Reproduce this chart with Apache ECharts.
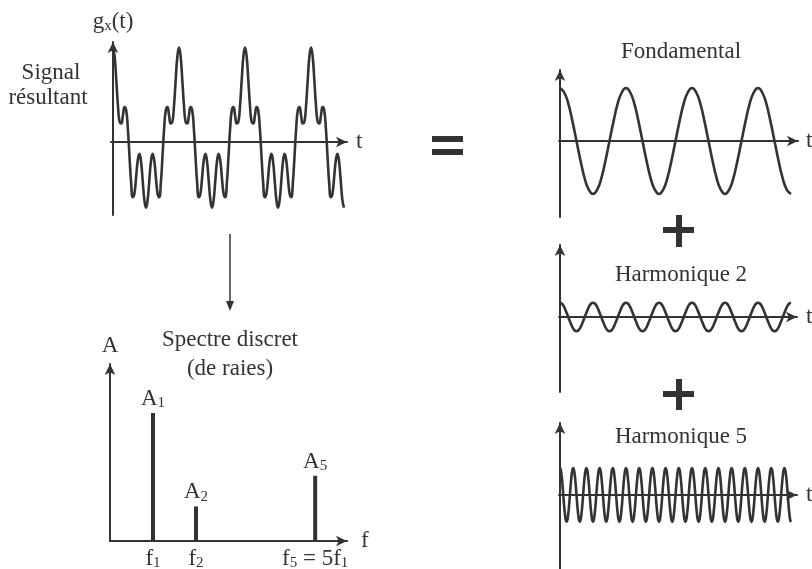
<!DOCTYPE html>
<html>
<head>
<meta charset="utf-8">
<script src="https://cdn.jsdelivr.net/npm/echarts@6/dist/echarts.min.js"></script>
<style>
html, body { margin: 0; padding: 0; background: #fff; }
#chart { width: 812px; height: 569px; }
</style>
</head>
<body>
<div id="chart"></div>
<script>
// one period of each component, read at 1/16 period steps (amplitude of the fundamental = 1)
var fundCycle = [1, 0.92, 0.71, 0.38, 0, -0.38, -0.71, -0.92, -1, -0.92, -0.71, -0.38, 0, 0.38, 0.71, 0.92];
var h2Cycle = [0.27, 0.25, 0.19, 0.10, 0, -0.10, -0.19, -0.25, -0.27, -0.25, -0.19, -0.10, 0, 0.10, 0.19, 0.25];
var h5Cycle = [0.51, 0.47, 0.36, 0.20, 0, -0.20, -0.36, -0.47, -0.51, -0.47, -0.36, -0.20, 0, 0.20, 0.36, 0.47];
// resulting signal g_x(t), one period read at 1/40 period steps
var sumCycle = [1.78, 1.61, 1.17, 0.69, 0.38, 0.35, 0.50, 0.66, 0.60, 0.26,
  -0.27, -0.77, -1.04, -0.97, -0.67, -0.35, -0.22, -0.37, -0.73, -1.09,
  -1.24, -1.09, -0.73, -0.37, -0.22, -0.35, -0.67, -0.97, -1.04, -0.77,
  -0.27, 0.26, 0.60, 0.66, 0.50, 0.35, 0.38, 0.69, 1.17, 1.61];
var periodsShown = 3.5; // periods of the fundamental that are drawn

// discrete spectrum
var specFreq = [1, 2, 4.77]; // where the lines sit, in units of f1
var specAmp = [1, 0.27, 0.51];
var specIndex = ['1', '2', '5'];
var freqLabels = ['{i|f}{s|1}', '{i|f}{s|2}', '{i|f}{s|5}{i| = 5f}{s|1}'];

var ink = '#333';
var serif = 'Liberation Serif';

// repeat one sampled period over the shown time span (x in fundamental periods)
function tile(cycle, harmonic) {
  var n = cycle.length;
  var steps = Math.round(periodsShown * harmonic * n);
  var out = [];
  for (var i = 0; i <= steps; i++) {
    out.push([i / (n * harmonic), cycle[i % n]]);
  }
  return out;
}

var richText = {
  i: { fontFamily: serif, fontSize: 23, color: ink },
  s: { fontFamily: serif, fontSize: 15, color: ink, padding: [9, 0, 0, 0] }
};

function axisBase(extra) {
  var a = {
    type: 'value',
    axisLine: {
      show: true,
      symbol: ['none', 'arrow'],
      symbolSize: [8, 11],
      lineStyle: { color: ink, width: 2 }
    },
    axisTick: { show: false },
    axisLabel: { show: false },
    splitLine: { show: false },
    nameTextStyle: { fontFamily: serif, fontSize: 23, color: ink, rich: richText }
  };
  for (var k in extra) a[k] = extra[k];
  return a;
}

function wave(data, idx) {
  return {
    type: 'line',
    xAxisIndex: idx,
    yAxisIndex: idx,
    data: data,
    smooth: true,
    showSymbol: false,
    silent: true,
    lineStyle: { color: ink, width: 2.6 }
  };
}

function rect(x, y, w, h) {
  return { type: 'rect', shape: { x: x, y: y, width: w, height: h }, style: { fill: ink } };
}

function label(text, x, y) {
  return {
    type: 'text', x: x, y: y,
    style: { text: text, fill: ink, font: '23px "' + serif + '"', textAlign: 'center', textVerticalAlign: 'middle' }
  };
}

var chart = echarts.init(document.getElementById('chart'));

var option = {
  animation: false,
  backgroundColor: '#fff',
  grid: [
    { left: 111, top: 42, width: 236, height: 173, outerBoundsMode: 'none' },  // resulting signal
    { left: 110, top: 364, width: 237, height: 177, outerBoundsMode: 'none' }, // spectrum
    { left: 559, top: 70, width: 239, height: 147, outerBoundsMode: 'none' },  // fundamental
    { left: 559, top: 245, width: 238, height: 147, outerBoundsMode: 'none' }, // harmonic 2
    { left: 559, top: 423, width: 238, height: 146, outerBoundsMode: 'none' }  // harmonic 5
  ],
  xAxis: [
    axisBase({ gridIndex: 0, min: -0.03, max: 3.545, name: 't', nameGap: 9 }),
    axisBase({
      gridIndex: 1, min: 0, max: 5.51, name: 'f', nameGap: 14,
      axisLabel: {
        show: true,
        customValues: specFreq,
        margin: 6,
        formatter: function (v) {
          for (var i = 0; i < specFreq.length; i++) {
            if (Math.abs(specFreq[i] - v) < 1e-6) return freqLabels[i];
          }
          return '';
        },
        rich: richText
      }
    }),
    axisBase({ gridIndex: 2, min: -0.015, max: 3.606, name: 't', nameGap: 8 }),
    axisBase({ gridIndex: 3, min: -0.015, max: 3.59, name: 't', nameGap: 9 }),
    axisBase({ gridIndex: 4, min: -0.015, max: 3.59, name: 't', nameGap: 9 })
  ],
  yAxis: [
    axisBase({ gridIndex: 0, min: -1.377, max: 1.887, name: '{i|g}{s|x}{i|(t)}', nameGap: 8 }),
    axisBase({ gridIndex: 1, min: 0, max: 1.383, name: 'A', nameGap: 7 }),
    axisBase({ gridIndex: 2, min: -1.434, max: 1.34 }),
    axisBase({ gridIndex: 3, min: -1.415, max: 1.358 }),
    axisBase({ gridIndex: 4, min: -1.396, max: 1.358 })
  ],
  series: [
    wave(tile(sumCycle, 1), 0),
    {
      type: 'bar',
      xAxisIndex: 1,
      yAxisIndex: 1,
      barWidth: 4,
      silent: true,
      itemStyle: { color: ink },
      data: specFreq.map(function (f, i) { return [f, specAmp[i]]; }),
      label: {
        show: true,
        position: 'top',
        distance: 2,
        formatter: function (p) { return '{i|A}{s|' + specIndex[p.dataIndex] + '}'; },
        rich: richText
      }
    },
    wave(tile(fundCycle, 1), 2),
    wave(tile(h2Cycle, 2), 3),
    wave(tile(h5Cycle, 5), 4)
  ],
  graphic: [
    label('Signal', 51, 73),
    label('résultant', 48, 98),
    label('Spectre discret', 230, 340),
    label('(de raies)', 230, 369),
    label('Fondamental', 681, 52),
    label('Harmonique 2', 681, 275),
    label('Harmonique 5', 681, 437),
    // "=" sign
    rect(432, 136, 31, 6),
    rect(432, 149, 31, 6),
    // "+" signs
    rect(663, 227, 31, 6),
    rect(676, 215, 6, 32),
    rect(663, 391, 31, 6),
    rect(676, 379, 6, 31),
    // arrow from the signal down to its spectrum
    { type: 'line', shape: { x1: 230, y1: 234, x2: 230, y2: 303 }, style: { stroke: ink, lineWidth: 1.5 } },
    { type: 'polygon', shape: { points: [[226, 301], [234, 301], [230, 311]] }, style: { fill: ink } }
  ]
};

chart.setOption(option);
window.addEventListener('resize', function () { chart.resize(); });
</script>
</body>
</html>
